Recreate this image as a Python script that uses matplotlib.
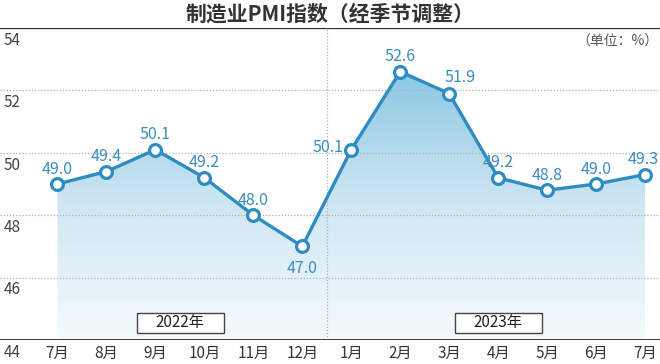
import matplotlib
matplotlib.use("Agg")
import matplotlib.pyplot as plt
import numpy as np
from matplotlib.colors import LinearSegmentedColormap
from matplotlib.patches import Rectangle

plt.rcParams['font.family'] = ['Noto Sans CJK SC', 'DejaVu Sans']

months = ["7月", "8月", "9月", "10月", "11月", "12月",
          "1月", "2月", "3月", "4月", "5月", "6月", "7月"]
pmi = [49.0, 49.4, 50.1, 49.2, 48.0, 47.0,
       50.1, 52.6, 51.9, 49.2, 48.8, 49.0, 49.3]
years = ["2022年", "2023年"]
y_ticks = [44, 46, 48, 50, 52, 54]
title = "制造业PMI指数（经季节调整）"
unit = "（单位：%）"

# where each value label sits relative to its point (pixels)
label_offsets = [(0, 15), (0, 15), (0, 15), (0, 15), (0, 15), (0, -22),
                 (-23, 2), (0, 15), (11, 16), (0, 15), (0, 15), (0, 15), (-2, 15)]

line_c = "#2f8cc2"
text_c = "#3b8dbd"
dark = "#333333"

fig = plt.figure(figsize=(6.6, 3.64), dpi=100)
ax = fig.add_axes([0, 24 / 364, 1, 312 / 364])
ax.set_xlim(-1.174, 12.306)
ax.set_ylim(44, 54)
ax.axis("off")

x = np.arange(len(pmi))

# gradient fill under the line
cmap = LinearSegmentedColormap.from_list("fill", ["#f5fafd", "#cfe7f3", "#8cc7e3"])
grad = np.linspace(0, 1, 256).reshape(-1, 1)
img = ax.imshow(grad, extent=[x[0], x[-1], 44, max(pmi)], origin="lower",
                cmap=cmap, aspect="auto", zorder=1)
poly = ax.fill_between(x, pmi, 44, color="none", lw=0)
clip = poly.get_paths()[0]
img.set_clip_path(clip, transform=ax.transData)

# grid lines
for yt in y_ticks[1:-1]:
    ax.axhline(yt, color="#b0b0b0", lw=0.9, ls=(0, (1, 1.5)), zorder=2)
ax.axvline(5.5, color="#b0b0b0", lw=0.9, ls=(0, (1, 1.5)), zorder=2)
ax.axhline(44, color="#2a2a2a", lw=2, zorder=3)
ax.axhline(54, color="#2a2a2a", lw=1.6, zorder=3)

# y tick labels sit just below their grid line
for yt in y_ticks:
    ax.text(-1.1, yt - 0.12, str(yt), ha="left", va="top",
            fontsize=11, color="#444444", zorder=4)

ax.plot(x, pmi, color=line_c, lw=2.4, marker="o", ms=8.5,
        mfc="white", mec=line_c, mew=2.3, zorder=5)

for xi, v, (dx, dy) in zip(x, pmi, label_offsets):
    ax.annotate(f"{v:.1f}", (xi, v), xytext=(dx * 0.72, dy * 0.72),
                textcoords="offset points", ha="center", va="center",
                fontsize=11.5, color=text_c, zorder=6)

for xi, m in zip(x, months):
    ax.text(xi, 44 - 0.42, m, ha="center", va="center",
            fontsize=11, color=dark, zorder=4)

# year boxes
for xc, yr in zip([2.51, 9.0], years):
    ax.add_patch(Rectangle((xc - 0.89, 44.23), 1.78, 0.64, fc="white",
                           ec="#444444", lw=1.0, zorder=6))
    ax.text(xc, 44.55, yr, ha="center", va="center", fontsize=11,
            color="#222222", zorder=7)

fig.text(0.5, 1 - 14 / 364, title, ha="center", va="center",
         fontsize=15, fontweight="bold", color=dark)
fig.text(0.998, 1 - 42 / 364, unit, ha="right", va="center",
         fontsize=10, color="#555555")

fig.savefig("out.png", dpi=100)
